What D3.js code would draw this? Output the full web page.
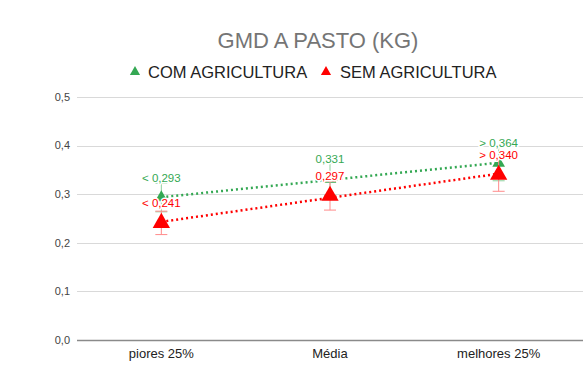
<!DOCTYPE html>
<html><head><meta charset="utf-8">
<script src="https://cdn.jsdelivr.net/npm/d3@7"></script>
<style>body{margin:0;background:#fff;}svg{display:block;font-family:"Liberation Sans",Arial,sans-serif;}</style>
</head><body>
<script>
const categories = ["piores 25%", "Média", "melhores 25%"];
const comValues = [0.293, 0.331, 0.364];
const semValues = [0.241, 0.297, 0.340];
const comLabels = ["< 0,293", "0,331", "> 0,364"];
const semLabels = ["< 0,241", "0,297", "> 0,340"];
const errorPct = 0.10;
const yTicks = [0, 0.1, 0.2, 0.3, 0.4, 0.5];
const seriesNames = ["COM AGRICULTURA", "SEM AGRICULTURA"];
const title = "GMD A PASTO (KG)";

const W = 583, H = 370;
const svg = d3.select("body").append("svg").attr("width", W).attr("height", H);

const x = d3.scaleBand().domain(categories).range([77, 583]);
const y = d3.scaleLinear().domain([0, 0.5]).range([340, 97]);

// gridlines
svg.append("g").selectAll("line").data(yTicks).join("line")
  .attr("x1", 77).attr("x2", 583)
  .attr("y1", d => Math.round(y(d)) + 0.5).attr("y2", d => Math.round(y(d)) + 0.5)
  .attr("stroke", d => d === 0 ? "#8a8a8a" : "#d9d9d9").attr("stroke-width", d => d === 0 ? 1.5 : 1);

// y tick labels
const fmt = v => d3.format(".1f")(v).replace(".", ",");
svg.append("g").selectAll("text").data(yTicks).join("text")
  .attr("x", 70).attr("y", d => y(d)).attr("dy", "0.35em")
  .attr("text-anchor", "end").attr("font-size", 11).attr("fill", "#444")
  .text(fmt);

// x labels
svg.append("g").selectAll("text").data(categories).join("text")
  .attr("x", d => x(d) + x.bandwidth() / 2).attr("y", 353).attr("dy", "0.35em")
  .attr("text-anchor", "middle").attr("font-size", 13).attr("fill", "#222")
  .text(d => d);

// title
svg.append("text").attr("x", 318).attr("y", 40).attr("dy", "0.35em")
  .attr("text-anchor", "middle").attr("font-size", 22).attr("fill", "#757575").text(title);

const green = "#34a853", red = "#ff0000";
const tri = (size) => d3.symbol().type(d3.symbolTriangle).size(size)();

// legend
const legend = [{name: seriesNames[0], color: green, tx: 135, lx: 148},
                {name: seriesNames[1], color: red, tx: 326, lx: 340}];
const lg = svg.append("g");
legend.forEach(l => {
  lg.append("path").attr("d", tri(45)).attr("transform", `translate(${l.tx},72)`).attr("fill", l.color);
  lg.append("text").attr("x", l.lx).attr("y", 72).attr("dy", "0.35em").attr("font-size", 16.5)
    .attr("fill", "#222").text(l.name);
});

function trend(vals) {
  const n = vals.length, xs = vals.map((_, i) => i);
  const mx = d3.mean(xs), my = d3.mean(vals);
  const b = d3.sum(xs.map((xi, i) => (xi - mx) * (vals[i] - my))) / d3.sum(xs.map(xi => (xi - mx) ** 2));
  const a = my - b * mx;
  return [a, a + b * (n - 1)];
}
const cx = i => x(categories[i]) + x.bandwidth() / 2;

function drawSeries(vals, color, errColor, size) {
  const g = svg.append("g");
  const t = trend(vals);
  g.append("line").attr("x1", cx(0)).attr("x2", cx(vals.length - 1))
    .attr("y1", y(t[0])).attr("y2", y(t[1]))
    .attr("stroke", color).attr("stroke-width", 2.5).attr("stroke-dasharray", "2,3");
  vals.forEach((v, i) => {
    const lo = y(v * (1 - errorPct)), hi = y(v * (1 + errorPct));
    g.append("line").attr("x1", cx(i)).attr("x2", cx(i)).attr("y1", lo).attr("y2", hi).attr("stroke", errColor).attr("stroke-width", 1);
    [lo, hi].forEach(yy => g.append("line").attr("x1", cx(i) - 6).attr("x2", cx(i) + 6).attr("y1", yy).attr("y2", yy).attr("stroke", errColor).attr("stroke-width", 1));
  });
  g.selectAll("path.pt").data(vals).join("path").attr("class", "pt")
    .attr("d", tri(size)).attr("transform", (d, i) => `translate(${cx(i)},${y(d)})`).attr("fill", color);
  return g;
}
drawSeries(comValues, green, "#8fd19e", 70);
drawSeries(semValues, red, "#ff8a8a", 130);

function drawLabels(vals, labels, color) {
  svg.append("g").selectAll("text").data(vals).join("text")
    .attr("x", (d, i) => cx(i)).attr("y", d => y(d) - 20).attr("dy", "0.35em")
    .attr("text-anchor", "middle").attr("font-size", 11.5).attr("fill", color)
    .attr("stroke", "#fff").attr("stroke-width", 3).attr("paint-order", "stroke")
    .text((d, i) => labels[i]);
}
drawLabels(comValues, comLabels, green);
drawLabels(semValues, semLabels, red);
</script>
</body></html>
